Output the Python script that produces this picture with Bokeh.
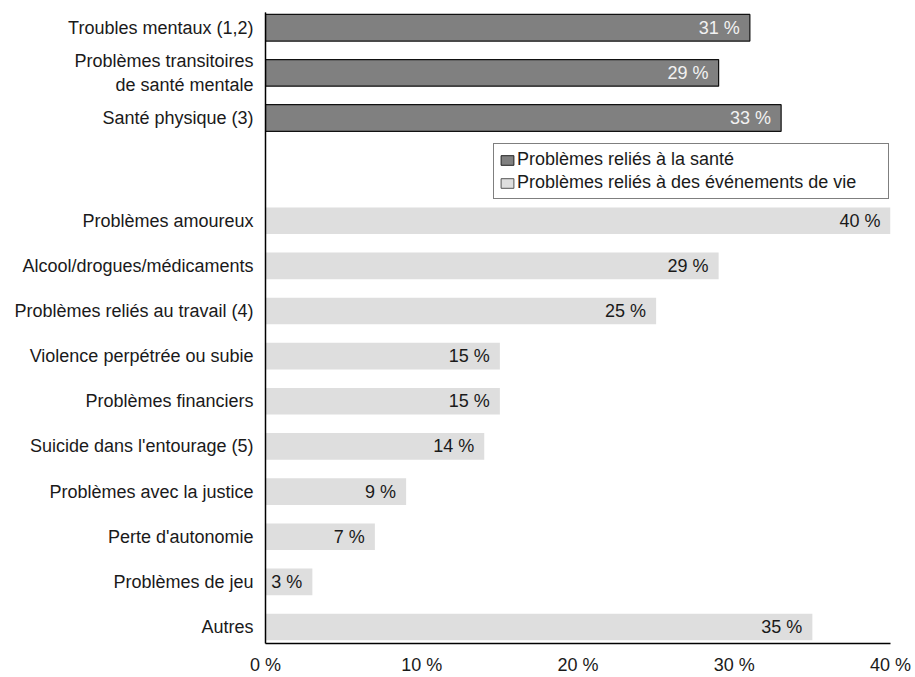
from bokeh.plotting import figure
from bokeh.models import Range1d, FixedTicker, ColumnDataSource, Legend, LegendItem
from bokeh.core.properties import value
from bokeh.embed import file_html
from bokeh.resources import INLINE

# ---- data ----
health_labels = ["Troubles mentaux (1,2)", "Problèmes transitoires\nde santé mentale", "Santé physique (3)"]
health_values = [31, 29, 33]
life_labels = ["Problèmes amoureux", "Alcool/drogues/médicaments", "Problèmes reliés au travail (4)",
               "Violence perpétrée ou subie", "Problèmes financiers", "Suicide dans l'entourage (5)",
               "Problèmes avec la justice", "Perte d'autonomie", "Problèmes de jeu", "Autres"]
life_values = [40, 29, 25, 15, 15, 14, 9, 7, 3, 35]
legend_labels = ["Problèmes reliés à la santé", "Problèmes reliés à des événements de vie"]
x_ticks = [0, 10, 20, 30, 40]
x_tick_labels = ["0 %", "10 %", "20 %", "30 %", "40 %"]

# ---- layout ----
GAP = 2.275  # distance between last health bar and first life bar (in slots)
health_pos = [float(i) for i in range(len(health_labels))]
life_start = health_pos[-1] + GAP
life_pos = [round(life_start + j, 4) for j in range(len(life_labels))]
TOP = -0.338
BOTTOM = life_pos[-1] + 0.366
BAR_H = 0.59
FONT = "Liberation Sans"
FS = "18px"

p = figure(width=915, height=677, output_backend="svg", toolbar_location=None,
           x_range=Range1d(0, 40), y_range=Range1d(BOTTOM, TOP),
           min_border_left=265, min_border_right=25, min_border_top=12, min_border_bottom=31)
p.outline_line_color = None
p.xgrid.visible = False
p.ygrid.visible = False
p.background_fill_color = "white"
p.border_fill_color = "white"

hsrc = ColumnDataSource(dict(y=health_pos, v=health_values,
                             t=[f"{v} %" for v in health_values]))
lsrc = ColumnDataSource(dict(y=life_pos, v=life_values,
                             t=[f"{v} %" for v in life_values]))

p.hbar(y="y", right="v", left=0, height=BAR_H, source=hsrc,
       fill_color="#808080", line_color="#111111", line_width=1.2)
p.hbar(y="y", right="v", left=0, height=BAR_H, source=lsrc,
       fill_color="#dedede", line_color=None)

p.text(x="v", y="y", text="t", source=hsrc, x_offset=-10, text_align="right",
       text_baseline="middle", text_font=value(FONT), text_font_size=FS, text_color="#f2f2f2")
p.text(x="v", y="y", text="t", source=lsrc, x_offset=-10, text_align="right",
       text_baseline="middle", text_font=value(FONT), text_font_size=FS, text_color="#1a1a1a")

# legend swatches (outlined); zero-size bars far outside the visible range
dummy = ColumnDataSource(dict(y=[-100.0], v=[0.0]))
r1 = p.hbar(y="y", right="v", left=0, height=0, source=dummy,
            fill_color="#808080", line_color="#222222", line_width=1)
r2 = p.hbar(y="y", right="v", left=0, height=0, source=dummy,
            fill_color="#dedede", line_color="#555555", line_width=1)
legend = Legend(items=[LegendItem(label=legend_labels[0], renderers=[r1]),
                       LegendItem(label=legend_labels[1], renderers=[r2])],
                location=(228, 444))
legend.label_text_font = FONT
legend.label_text_font_size = FS
legend.label_text_color = "#1a1a1a"
legend.glyph_width = 16
legend.glyph_height = 12
legend.label_standoff = 2
legend.label_width = 366
legend.padding = 5
legend.spacing = 2
legend.margin = 0
legend.label_height = 20
legend.border_line_color = "black"
legend.border_line_width = 1
legend.background_fill_alpha = 1
p.add_layout(legend)

# x axis
xa = p.xaxis[0]
xa.ticker = FixedTicker(ticks=x_ticks)
xa.major_label_overrides = {t: l for t, l in zip(x_ticks, x_tick_labels)}
xa.major_tick_out = 0
xa.major_tick_in = 0
xa.minor_tick_line_color = None
xa.axis_line_color = "black"
xa.axis_line_width = 1.5
xa.major_label_standoff = 11
xa.major_label_text_font = FONT
xa.major_label_text_font_size = FS
xa.major_label_text_color = "#1a1a1a"

# y axis
ya = p.yaxis[0]
all_pos = health_pos + life_pos
all_labels = health_labels + life_labels
ya.ticker = FixedTicker(ticks=all_pos)
ya.major_label_overrides = {t: l for t, l in zip(all_pos, all_labels)}
ya.major_tick_out = 0
ya.major_tick_in = 0
ya.minor_tick_line_color = None
ya.axis_line_color = "black"
ya.axis_line_width = 1.5
ya.major_label_standoff = 12
ya.major_label_text_font = FONT
ya.major_label_text_font_size = FS
ya.major_label_text_color = "#1a1a1a"

open("out.html", "w").write(file_html(p, INLINE))
